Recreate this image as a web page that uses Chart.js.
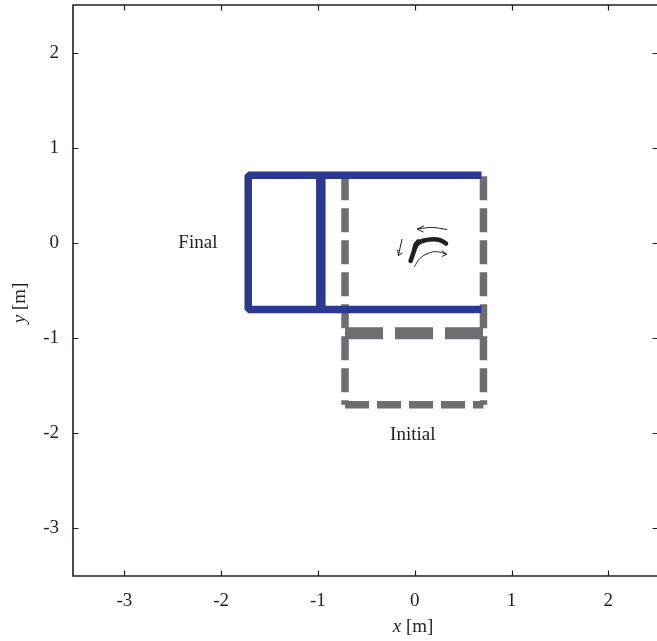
<!DOCTYPE html>
<html>
<head>
<meta charset="utf-8">
<script src="https://cdn.jsdelivr.net/npm/chart.js@4.4.1/dist/chart.umd.min.js"></script>
<style>
  html, body { margin: 0; padding: 0; background: #fff; overflow: hidden; }
  #wrap { width: 664px; height: 641px; }
</style>
</head>
<body>
<div id="wrap"><canvas id="c" width="664" height="641"></canvas></div>
<script>
// ---- axes ----
const xTicks = [-3, -2, -1, 0, 1, 2];
const yTicks = [2, 1, 0, -1, -2, -3];
const xRange = [-3.53, 2.513];
const yRange = [-3.5, 2.5];

// ---- final pose (solid blue): body outline open toward +x, plus joint bar ----
const finalOutline = [[0.69, 0.71], [-1.72, 0.71], [-1.72, -0.70], [0.69, -0.70]];
const finalJoint = [[-0.97, 0.71], [-0.97, -0.70]];

// ---- initial pose (dashed grey): outline open toward +y, plus joint bar ----
const initialLeft = [[-0.72, 0.70], [-0.72, -1.70]];
const initialBottom = [[-0.72, -1.70], [0.71, -1.70]];
const initialRight = [[0.71, 0.70], [0.71, -1.70]];
const initialJoint = [[-0.72, -0.95], [0.71, -0.95]];

// ---- measured path of the reference point ----
const pathMain = [[-0.043, -0.190], [-0.018, -0.117], [0.013, -0.033], [0.044, 0.004],
                  [0.096, 0.025], [0.158, 0.036], [0.230, 0.036], [0.282, 0.020], [0.323, -0.006]];
const pathHook = [[0.035, 0.022], [0.002, -0.018], [-0.010, -0.070]];

// ---- motion arrows: shafts and heads ----
const arrowTopShaft = [[0.334, 0.141], [0.179, 0.162], [0.024, 0.146]];
const arrowTopHead = [[0.096, 0.180], [0.024, 0.146], [0.090, 0.114]];
const arrowLeftShaft = [[-0.131, 0.041], [-0.169, -0.134]];
const arrowLeftHead = [[-0.176, -0.068], [-0.169, -0.134], [-0.128, -0.103]];
const arrowLowShaft = [[-0.004, -0.250], [0.055, -0.162], [0.140, -0.109], [0.227, -0.092], [0.331, -0.119]];
const arrowLowHead = [[0.280, -0.082], [0.331, -0.119], [0.280, -0.143]];

// ---- annotations ----
const noteTexts = ['Final', 'Initial'];
const noteX = [-2.24, -0.02];
const noteY = [0.0, -2.02];

const BLUE = '#2b3990';
const GREY = '#6d6e71';
const INK = '#231f20';
const SERIF = '"Liberation Serif", "Times New Roman", serif';
const FS = 19;

const pts = arr => arr.map(p => ({ x: p[0], y: p[1] }));

function seg(data, color, width, extra) {
  return Object.assign({
    data: pts(data), showLine: true, borderColor: color, backgroundColor: color,
    borderWidth: width, pointRadius: 0, pointHoverRadius: 0, tension: 0,
    borderCapStyle: 'butt', borderJoinStyle: 'miter', fill: false
  }, extra || {});
}

const datasets = [
  seg(pathMain, INK, 4.5, { order: 0, borderCapStyle: 'round', borderJoinStyle: 'round', tension: 0.3 }),
  seg(pathHook, INK, 3.5, { order: 0, borderCapStyle: 'round', borderJoinStyle: 'round' }),
  seg(arrowTopShaft, INK, 1, { order: 0, tension: 0.4 }),
  seg(arrowTopHead, INK, 1, { order: 0 }),
  seg(arrowLeftShaft, INK, 1, { order: 0 }),
  seg(arrowLeftHead, INK, 1, { order: 0 }),
  seg(arrowLowShaft, INK, 1, { order: 0, tension: 0.4 }),
  seg(arrowLowHead, INK, 1, { order: 0 }),
  seg(finalOutline, BLUE, 7.5, { order: 1, borderJoinStyle: 'bevel' }),
  seg(finalJoint, BLUE, 9.5, { order: 1 }),
  seg(initialLeft, GREY, 7.5, { order: 2, borderDash: [24, 8] }),
  seg(initialRight, GREY, 7.5, { order: 2, borderDash: [24, 8] }),
  seg(initialBottom, GREY, 7.5, { order: 2, borderDash: [24, 8] }),
  seg(initialJoint, GREY, 12, { order: 2, borderDash: [38, 12] })
];

// Frame (left, top, bottom sides) with inward ticks, tick labels, axis titles and notes
const framePlugin = {
  id: 'frame',
  afterDraw(chart) {
    const ctx = chart.ctx;
    const a = chart.chartArea;
    const xs = chart.scales.x, ys = chart.scales.y;
    const tl = 5.5;
    const edge = chart.width;
    ctx.save();
    ctx.strokeStyle = INK;
    ctx.lineWidth = 1.6;
    ctx.beginPath();
    ctx.moveTo(edge, a.top); ctx.lineTo(a.left, a.top);
    ctx.lineTo(a.left, a.bottom); ctx.lineTo(edge, a.bottom);
    ctx.stroke();
    ctx.lineWidth = 1.2;
    ctx.beginPath();
    xTicks.forEach(v => {
      const px = Math.round(xs.getPixelForValue(v)) + 0.5;
      ctx.moveTo(px, a.bottom); ctx.lineTo(px, a.bottom - tl);
      ctx.moveTo(px, a.top); ctx.lineTo(px, a.top + tl);
    });
    yTicks.forEach(v => {
      const py = Math.round(ys.getPixelForValue(v)) + 0.5;
      ctx.moveTo(a.left, py); ctx.lineTo(a.left + tl, py);
      ctx.moveTo(a.right, py); ctx.lineTo(a.right - tl, py);
    });
    ctx.stroke();

    ctx.fillStyle = INK;
    ctx.font = FS + 'px ' + SERIF;
    ctx.textBaseline = 'middle';
    ctx.textAlign = 'center';
    xTicks.forEach(v => ctx.fillText(String(v), xs.getPixelForValue(v), a.bottom + 25));
    ctx.textAlign = 'right';
    yTicks.forEach(v => ctx.fillText(String(v), a.left - 14, ys.getPixelForValue(v)));

    // axis title with an italic variable name followed by the unit
    const title = (name, cx, cy, angle) => {
      ctx.save();
      ctx.translate(cx, cy);
      ctx.rotate(angle);
      ctx.textAlign = 'left';
      ctx.font = 'italic ' + FS + 'px ' + SERIF;
      const w1 = ctx.measureText(name).width;
      ctx.font = FS + 'px ' + SERIF;
      const w2 = ctx.measureText(' [m]').width;
      const s = -(w1 + w2) / 2;
      ctx.font = 'italic ' + FS + 'px ' + SERIF;
      ctx.fillText(name, s, 0);
      ctx.font = FS + 'px ' + SERIF;
      ctx.fillText(' [m]', s + w1, 0);
      ctx.restore();
    };
    title('x', a.left + 340, a.bottom + 51, 0);
    title('y', a.left - 53, a.top + 298, -Math.PI / 2);

    // notes
    ctx.font = FS + 'px ' + SERIF;
    ctx.textAlign = 'center';
    noteTexts.forEach((t, i) => {
      ctx.fillText(t, xs.getPixelForValue(noteX[i]), ys.getPixelForValue(noteY[i]));
    });
    ctx.restore();
  }
};

new Chart(document.getElementById('c'), {
  type: 'scatter',
  data: { datasets },
  options: {
    responsive: false,
    animation: false,
    events: [],
    layout: { padding: { left: 73, top: 5, right: 6, bottom: 65 } },
    plugins: { legend: { display: false }, tooltip: { enabled: false } },
    scales: {
      x: { type: 'linear', display: false, min: xRange[0], max: xRange[1] },
      y: { type: 'linear', display: false, min: yRange[0], max: yRange[1] }
    }
  },
  plugins: [framePlugin]
});
</script>
</body>
</html>
